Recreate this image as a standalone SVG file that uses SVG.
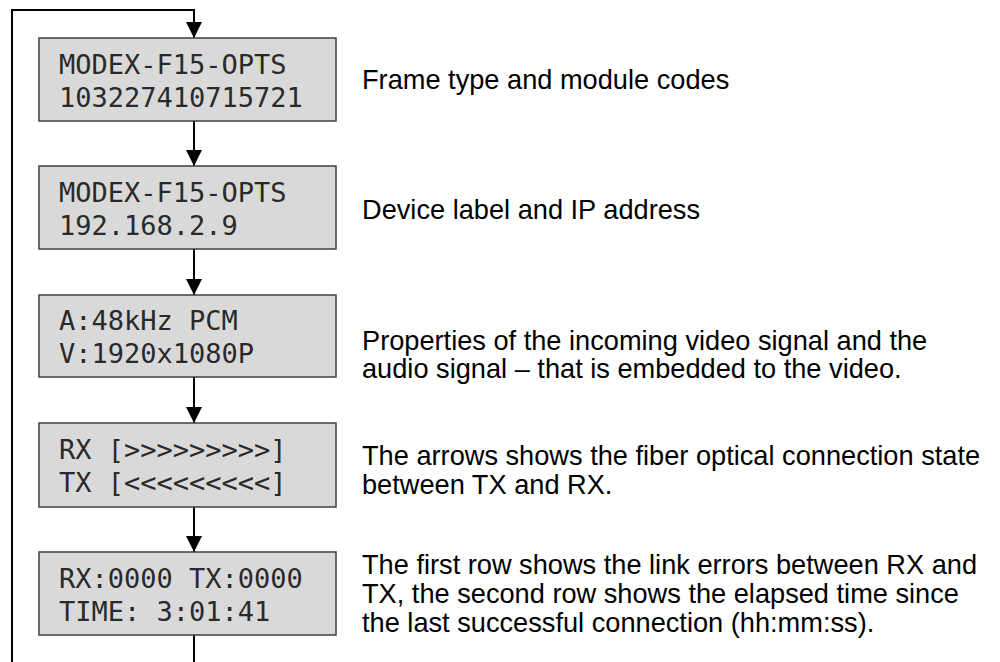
<svg xmlns="http://www.w3.org/2000/svg" width="1000" height="662" viewBox="0 0 1000 662">
<style>
.box{fill:#d9d9d9;stroke:#404040;stroke-width:1.5}
.lcd{font-family:"DejaVu Sans Mono","Liberation Mono",monospace;font-size:27px;fill:#2a2a2a}
.desc{font-family:"Liberation Sans",Arial,sans-serif;font-size:27.2px;fill:#000}
.conn{fill:none;stroke:#000;stroke-width:2}
</style>
<defs>
<marker id="arr" markerUnits="userSpaceOnUse" markerWidth="16" markerHeight="16" refX="16" refY="8" orient="auto">
<path d="M0,0 L16,8 L0,16 Z" fill="#000"/>
</marker>
</defs>
<g id="connectors">
<path class="conn" d="M194,121 V166" marker-end="url(#arr)"/>
<path class="conn" d="M194,249 V295" marker-end="url(#arr)"/>
<path class="conn" d="M194,377 V423" marker-end="url(#arr)"/>
<path class="conn" d="M194,507 V552" marker-end="url(#arr)"/>
<path class="conn" d="M194,635 V680 H12 V10 H194 V38" marker-end="url(#arr)"/>
</g>
<g id="node1">
<rect class="box" x="39" y="38" width="297" height="83"/>
<text class="lcd" x="59" y="74">MODEX-F15-OPTS</text>
<text class="lcd" x="59" y="107">103227410715721</text>
<text class="desc" x="362" y="89">Frame type and module codes</text>
</g>
<g id="node2">
<rect class="box" x="39" y="166" width="297" height="83"/>
<text class="lcd" x="59" y="202">MODEX-F15-OPTS</text>
<text class="lcd" x="59" y="235">192.168.2.9</text>
<text class="desc" x="362" y="219">Device label and IP address</text>
</g>
<g id="node3">
<rect class="box" x="39" y="295" width="297" height="82"/>
<text class="lcd" x="59" y="330">A:48kHz PCM</text>
<text class="lcd" x="59" y="363">V:1920x1080P</text>
<text class="desc" x="362" y="350">Properties of the incoming video signal and the</text>
<text class="desc" x="362" y="378">audio signal – that is embedded to the video.</text>
</g>
<g id="node4">
<rect class="box" x="39" y="423" width="297" height="84"/>
<text class="lcd" x="59" y="459">RX [&gt;&gt;&gt;&gt;&gt;&gt;&gt;&gt;&gt;]</text>
<text class="lcd" x="59" y="492">TX [&lt;&lt;&lt;&lt;&lt;&lt;&lt;&lt;&lt;]</text>
<text class="desc" x="362" y="465">The arrows shows the fiber optical connection state</text>
<text class="desc" x="362" y="494">between TX and RX.</text>
</g>
<g id="node5">
<rect class="box" x="39" y="552" width="297" height="83"/>
<text class="lcd" x="59" y="588">RX:0000 TX:0000</text>
<text class="lcd" x="59" y="621">TIME: 3:01:41</text>
<text class="desc" x="362" y="574">The first row shows the link errors between RX and</text>
<text class="desc" x="362" y="603">TX, the second row shows the elapsed time since</text>
<text class="desc" x="362" y="632">the last successful connection (hh:mm:ss).</text>
</g>
</svg>
